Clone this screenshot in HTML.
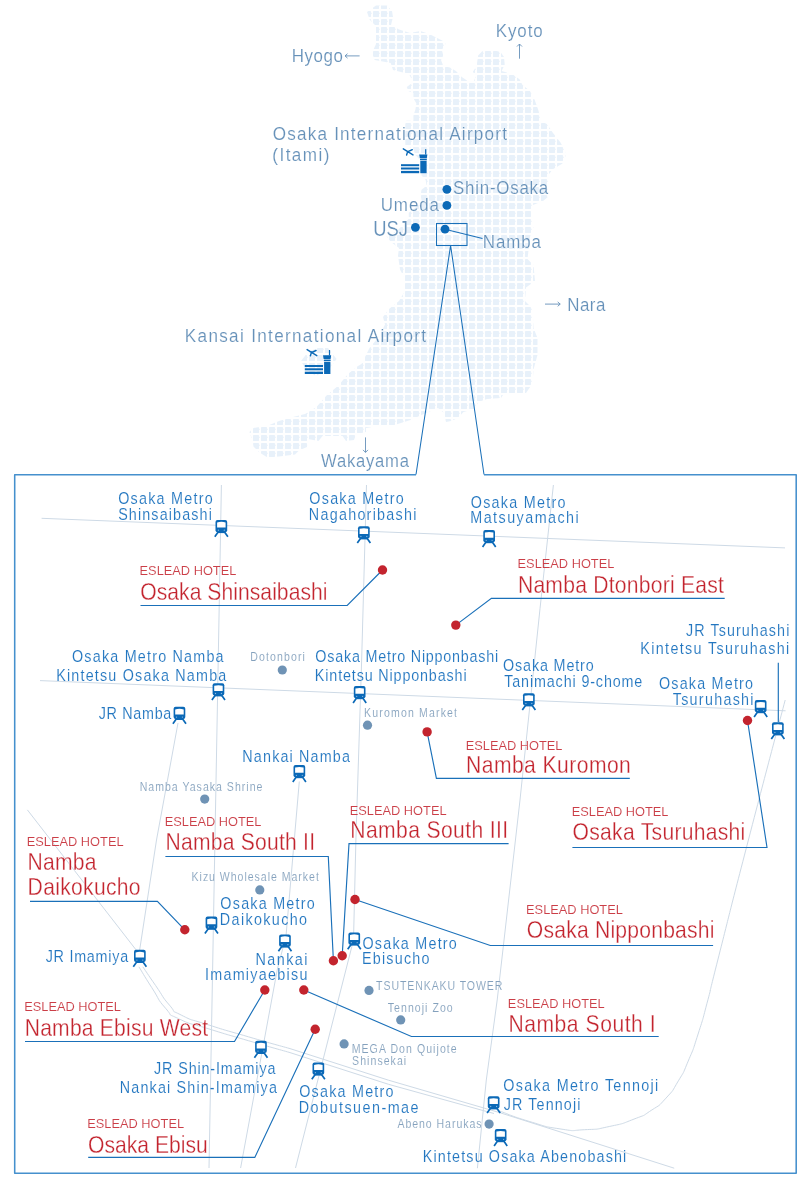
<!DOCTYPE html>
<html><head><meta charset="utf-8"><title>Map</title>
<style>
html,body{margin:0;padding:0;background:#fff;}
svg{display:block;will-change:transform;}
text{font-family:"Liberation Sans",sans-serif;}
</style></head><body>
<svg width="811" height="1180" viewBox="0 0 811 1180">
<defs>
<pattern id="g" x="5" y="3" width="8" height="8" patternUnits="userSpaceOnUse"><rect x="0" y="0" width="6" height="6" rx="0.4" fill="#e8f1fa"/><rect x="5.8" y="1.7" width="1" height="1.3" fill="#e8f1fa" opacity="0.8"/></pattern>
<clipPath id="oc"><polygon points="376,5.5 387,5.5 392,11 393,17 391,25 399,29.5 410,33 420.4,31 429.2,34 438.1,38.5 445.5,42.2 444.8,46.6 441.8,49.6 443.3,55.5 441,60 443.3,65.9 450,67.4 455.9,71 461.8,77 469.2,82.1 473.6,82 475.8,76.2 472.9,71.8 476.6,65.9 478.1,55.5 482.5,51 488.4,49.6 500.3,51.8 504,57 504.7,64.4 501.7,71 512.1,74 519.5,79.2 522.5,85.1 530,91 534.7,100 538.4,110.3 540,116.5 540,121 547,124 553,133 560.5,142.5 565,151 565.5,156 562.5,163.5 552.5,169.5 548,175.5 548,197 543,201 533,205 531,213 532,223 533.5,227 530,237 527.5,259 533.5,265 535,281 526,287.5 525,301 532.5,308.5 533.5,328 537.5,338 537.5,355 533.5,369.5 532.5,383.5 526,393 503,395 501,398 487,399 478.5,402 474.5,409 463.5,412 458,418 451,421 446,422 444,413 438,408 426,413 410.5,420 394.5,425 379,426 366,428 366,432 356,434.5 354,440 346,441 342.5,436 322.5,436 318.5,441 308,439 307,447 299,450.5 295,454.5 279,456.5 267.5,457.5 259.5,452.5 253.5,446.5 252.5,441 249.5,432 253.5,428 269.5,425 279,421 293,417 305,414 316.5,407 326.5,395.5 338.5,385.5 348,374 358,366 361.5,364 369.5,348 379,336.5 385,324.5 383,317 389,309 399,301 405,291 405,279 400,269.5 398,255.5 399,248 391,242 386.5,236.5 397,231 408.8,218.7 408.8,212.8 422,202.5 420.5,195 421.5,189.8 426.6,185.8 425.6,179.7 421.5,175.6 420,160 415.4,155 413.4,149 405.3,145 405.3,123.7 406.3,120.7 413.4,120.7 413.4,115.6 415.4,109.5 416.4,103.4 413.4,98.3 413.4,93 408.3,91 406.8,87 413.4,82 411.6,79 409,74 393,70 390.7,63 374.7,60 372,53 376,44 376,26 369.7,19.7 367,12"/><polygon points="301,361 308,352 318,348 328,348 336.6,359 330,368 316,376 306,370"/></clipPath>
<g id="tr">
<rect x="1.2" y="0" width="11.7" height="12.3" rx="2" fill="#0b69b7"/>
<rect x="3.4" y="11.5" width="7.2" height="1.7" fill="#0b69b7"/>
<path d="M2.8 7.7 V2.6 Q7.05 1.3 11.3 2.6 V7.7 Z" fill="#fff"/>
<circle cx="4.1" cy="10.3" r="0.65" fill="#8dbbe2"/><circle cx="10" cy="10.3" r="0.65" fill="#8dbbe2"/>
<path d="M4.2 11.6 L0.5 16.9 M9.9 11.6 L13.6 16.9" stroke="#0b69b7" stroke-width="1.7" stroke-linecap="butt" fill="none"/>
</g>
<g id="ap">
<rect x="0" y="15.6" width="18.2" height="2" fill="#0b69b7"/>
<rect x="0" y="18.9" width="18.2" height="2" fill="#0b69b7"/>
<rect x="0" y="22.3" width="18.2" height="2.3" fill="#0b69b7"/>
<rect x="19.3" y="12.4" width="6.3" height="12.2" fill="#0b69b7"/>
<path d="M18.2 5.8 H26.4 L25.8 9.6 H18.8 Z" fill="#0b69b7"/>
<rect x="19" y="10.2" width="6.8" height="1.5" fill="#0b69b7"/>
<rect x="24.1" y="0.6" width="1.2" height="5.4" fill="#0b69b7"/>
<path d="M2.3 0.2 L12 6.3 M11.3 1.1 L6.6 3.2 L5.6 6.4" stroke="#0b69b7" stroke-width="1.4" fill="none" stroke-linecap="round"/>
</g>
</defs>
<rect width="811" height="1180" fill="#fff"/>

<rect x="240" y="0" width="340" height="470" fill="url(#g)" clip-path="url(#oc)"/>
<g fill="none" stroke="#1a70b9" stroke-width="1.05">
<rect x="436.5" y="223.5" width="30.5" height="22"/>
<path d="M445 229.2 L482.5 238.4"/>
<path d="M450.6 245.5 L416 474.5 M450.6 245.5 L484 474.5"/>
</g>
<path d="M416 474.7 H14.7 V1173.2 H796.2 V474.7 H484" fill="none" stroke="#4590cd" stroke-width="1.55" stroke-linejoin="round"/>
<circle cx="446.9" cy="189.3" r="4.4" fill="#0b69b7"/>
<circle cx="446.9" cy="205.4" r="4.4" fill="#0b69b7"/>
<circle cx="415.4" cy="227.3" r="4.4" fill="#0b69b7"/>
<circle cx="445" cy="229.2" r="4.4" fill="#0b69b7"/>
<use href="#ap" x="401" y="148.6"/>
<use href="#ap" x="304.8" y="349.4"/>
<text transform="translate(291.65 62.4) scale(0.9000 1)" font-size="18.8" fill="#6691b9" stroke="#fff" stroke-width="0.15" letter-spacing="0.675">Hyogo</text>
<text transform="translate(495.65 36.5) scale(0.9000 1)" font-size="18.8" fill="#6691b9" stroke="#fff" stroke-width="0.15" letter-spacing="1.056">Kyoto</text>
<text transform="translate(272.63 140.2) scale(0.9000 1)" font-size="19" fill="#6691b9" stroke="#fff" stroke-width="0.15" letter-spacing="1.367">Osaka International Airport</text>
<text transform="translate(272.37 160.9) scale(0.9000 1)" font-size="19" fill="#6691b9" stroke="#fff" stroke-width="0.15" letter-spacing="1.596">(Itami)</text>
<text transform="translate(453.04 194.3) scale(0.9000 1)" font-size="18.8" fill="#6691b9" stroke="#fff" stroke-width="0.15" letter-spacing="0.834">Shin-Osaka</text>
<text transform="translate(380.73 210.6) scale(0.9000 1)" font-size="18.8" fill="#6691b9" stroke="#fff" stroke-width="0.15" letter-spacing="1.028">Umeda</text>
<text transform="translate(373.22 236.2) scale(0.8542 1)" font-size="21.5" fill="#6691b9" stroke="#fff" stroke-width="0.15">USJ</text>
<text transform="translate(482.85 247.5) scale(0.9000 1)" font-size="18.8" fill="#6691b9" stroke="#fff" stroke-width="0.15" letter-spacing="0.968">Namba</text>
<text transform="translate(567.15 310.6) scale(0.9000 1)" font-size="18.8" fill="#6691b9" stroke="#fff" stroke-width="0.15" letter-spacing="0.606">Nara</text>
<text transform="translate(184.83 341.6) scale(0.9000 1)" font-size="19" fill="#6691b9" stroke="#fff" stroke-width="0.15" letter-spacing="1.483">Kansai International Airport</text>
<text transform="translate(321.06 466.5) scale(0.9000 1)" font-size="18.5" fill="#6691b9" stroke="#fff" stroke-width="0.15" letter-spacing="0.853">Wakayama</text>
<g fill="none" stroke="#6691b9" stroke-width="0.9">
<path d="M359.6 55.9 H345 M347.5 53.7 L345 55.9 L347.5 58.1"/>
<path d="M519.5 58.7 V44 M517 46.5 L519.5 44 L522 46.5"/>
<path d="M545 304.1 H560.2 M557.7 301.9 L560.2 304.1 L557.7 306.3"/>
<path d="M365.5 437.4 V452.4 M363 449.9 L365.5 452.4 L368 449.9"/>
</g>
<g fill="none" stroke="#cedae6" stroke-width="1">
<path d="M41.6 518.3 L785 547.9"/>
<path d="M40 680.6 L785.6 710.8"/>
<path d="M221.4 485 L209 1168"/>
<path d="M366.5 485 L361.5 665 L355.9 840 L353.5 940 L295.5 1168"/>
<path d="M553.4 485 L540 608.7 L520 800 L497.2 1000 L486.3 1080 L477.4 1168.2"/>
<path d="M785.2 700 C772.9 746.7 770.9 753.3 748.4 840 C725.9 926.7 731.3 906.8 717.8 960 C704.3 1013.2 714.6 974.8 708 999.5 C701.4 1024.2 704.7 1013.5 698.1 1034 C691.5 1054.5 694.8 1045.5 688.2 1061.1 C681.6 1076.7 685.8 1068.5 678.4 1080.8 C671.0 1093.1 675.1 1088.2 666 1098.1 C656.9 1108.0 661.9 1103.4 651.2 1110.4 C640.5 1117.4 648.0 1113.7 634 1119.1 C620.0 1124.5 625.7 1123.0 609.3 1126.5 C592.9 1130.0 601.1 1128.9 584.7 1129.7 C568.3 1130.5 578.5 1131.7 560 1128.9 C541.5 1126.1 549.3 1127.4 529.2 1121.4 C509.1 1115.4 509.5 1114.5 499.6 1111"/>
<path d="M178 723 L156.5 840 L139.6 950.4"/>
<path d="M27.4 809.9 L138.4 952.9"/>
<path d="M299.3 781.5 L286 936 L277.2 970 L240.6 1168"/>
<path d="M142.8 966.8 C147.1 973.0 146.7 972.7 155.6 985.5 C164.5 998.3 160.9 995.3 169.5 1005.2 C178.1 1015.1 168.2 1008.5 181.3 1015.1 C194.4 1021.7 186.5 1017.8 208.9 1025 C231.3 1032.2 221.4 1028.9 248.4 1036.8 C275.4 1044.7 276.1 1044.7 290 1048.6 L388.5 1080.2 L486.2 1108.7 L499.6 1112.6 L674.2 1168.2"/>
<path d="M138.9 966.8 C143.2 973.7 142.8 973.7 151.7 987.5 C160.6 1001.3 156.3 997.7 165.5 1008.2 C174.7 1018.7 164.8 1012.1 179.3 1019 C193.8 1025.9 185.9 1021.7 208.9 1028.9 C231.9 1036.1 221.4 1032.8 248.4 1040.7 C275.4 1048.6 276.1 1048.6 290 1052.6 L388.5 1084.3 L486.2 1111.4 L494 1113.5"/>
</g>
<g fill="none" stroke="#1a70b9" stroke-width="1.15" stroke-linejoin="miter">
<path d="M140.5 605.5 H347.2 L382.5 570"/>
<path d="M455.8 625.1 L491.4 598.4 H724.7"/>
<path d="M427.1 731.9 L436.4 778.3 H629.8"/>
<path d="M747.5 720.5 L767 847.5 H572.4"/>
<path d="M165.4 856.5 H328.3 L333.4 960.7"/>
<path d="M508.6 843.6 H349 L342.2 955.8"/>
<path d="M30 901.4 H157.4 L184.8 929.8"/>
<path d="M355 899.5 L490.3 945.5 H713.1"/>
<path d="M25 1041.5 H234.5 L264.8 990"/>
<path d="M303.8 990 L411.4 1036.5 H658.7"/>
<path d="M88.2 1157.4 H254.8 L315.2 1029.3"/>
<path d="M778.3 662.7 V722"/>
</g>
<use href="#tr" x="214.3" y="519.9"/>
<use href="#tr" x="356.8" y="526.2"/>
<use href="#tr" x="482.1" y="530"/>
<use href="#tr" x="211.4" y="683.2"/>
<use href="#tr" x="172.4" y="706.8"/>
<use href="#tr" x="352.6" y="686"/>
<use href="#tr" x="521.8" y="693.2"/>
<use href="#tr" x="753.6" y="700"/>
<use href="#tr" x="770.8" y="722.2"/>
<use href="#tr" x="292.3" y="765"/>
<use href="#tr" x="204.4" y="916.6"/>
<use href="#tr" x="277.9" y="934.4"/>
<use href="#tr" x="347.2" y="932.4"/>
<use href="#tr" x="132.8" y="949.8"/>
<use href="#tr" x="253.9" y="1040.8"/>
<use href="#tr" x="311.3" y="1062.4"/>
<use href="#tr" x="486.6" y="1096.2"/>
<use href="#tr" x="493.6" y="1129"/>
<circle cx="282.3" cy="670" r="4.6" fill="#6f93b5"/>
<circle cx="367.5" cy="725.2" r="4.6" fill="#6f93b5"/>
<circle cx="204.7" cy="799.1" r="4.6" fill="#6f93b5"/>
<circle cx="259.8" cy="889.9" r="4.6" fill="#6f93b5"/>
<circle cx="369" cy="990.4" r="4.6" fill="#6f93b5"/>
<circle cx="400.7" cy="1019.9" r="4.6" fill="#6f93b5"/>
<circle cx="344.1" cy="1043.9" r="4.6" fill="#6f93b5"/>
<circle cx="489.1" cy="1124.1" r="4.6" fill="#6f93b5"/>
<circle cx="382.5" cy="570" r="4.7" fill="#c3242e"/>
<circle cx="455.8" cy="625.1" r="4.7" fill="#c3242e"/>
<circle cx="427.1" cy="731.9" r="4.7" fill="#c3242e"/>
<circle cx="747.5" cy="720.5" r="4.7" fill="#c3242e"/>
<circle cx="333.4" cy="960.7" r="4.7" fill="#c3242e"/>
<circle cx="342.2" cy="955.8" r="4.7" fill="#c3242e"/>
<circle cx="184.8" cy="929.8" r="4.7" fill="#c3242e"/>
<circle cx="355" cy="899.5" r="4.7" fill="#c3242e"/>
<circle cx="264.8" cy="990" r="4.7" fill="#c3242e"/>
<circle cx="303.8" cy="990" r="4.7" fill="#c3242e"/>
<circle cx="315.2" cy="1029.3" r="4.7" fill="#c3242e"/>
<text transform="translate(118.15 503.6) scale(0.8800 1)" font-size="16.3" fill="#2276c0" stroke="#fff" stroke-width="0.12" letter-spacing="1.425">Osaka Metro</text>
<text transform="translate(118.15 519.7) scale(0.8800 1)" font-size="16.3" fill="#2276c0" stroke="#fff" stroke-width="0.12" letter-spacing="1.279">Shinsaibashi</text>
<text transform="translate(309.35 504.3) scale(0.8800 1)" font-size="16.3" fill="#2276c0" stroke="#fff" stroke-width="0.12" letter-spacing="1.402">Osaka Metro</text>
<text transform="translate(308.85 520) scale(0.8800 1)" font-size="16.3" fill="#2276c0" stroke="#fff" stroke-width="0.12" letter-spacing="1.430">Nagahoribashi</text>
<text transform="translate(470.75 508.1) scale(0.8800 1)" font-size="16.3" fill="#2276c0" stroke="#fff" stroke-width="0.12" letter-spacing="1.447">Osaka Metro</text>
<text transform="translate(470.25 523.2) scale(0.8800 1)" font-size="16.3" fill="#2276c0" stroke="#fff" stroke-width="0.12" letter-spacing="1.656">Matsuyamachi</text>
<text transform="translate(685.98 635.5) scale(0.8800 1)" font-size="16.3" fill="#2276c0" stroke="#fff" stroke-width="0.12" letter-spacing="1.209">JR Tsuruhashi</text>
<text transform="translate(640.35 654.3) scale(0.8800 1)" font-size="16.3" fill="#2276c0" stroke="#fff" stroke-width="0.12" letter-spacing="1.520">Kintetsu Tsuruhashi</text>
<text transform="translate(71.95 662) scale(0.8800 1)" font-size="16.3" fill="#2276c0" stroke="#fff" stroke-width="0.12" letter-spacing="1.377">Osaka Metro Namba</text>
<text transform="translate(56.15 681) scale(0.8800 1)" font-size="16.3" fill="#2276c0" stroke="#fff" stroke-width="0.12" letter-spacing="1.359">Kintetsu Osaka Namba</text>
<text transform="translate(98.68 719) scale(0.8800 1)" font-size="16.3" fill="#2276c0" stroke="#fff" stroke-width="0.12" letter-spacing="0.802">JR Namba</text>
<text transform="translate(315.35 662.4) scale(0.8800 1)" font-size="16.3" fill="#2276c0" stroke="#fff" stroke-width="0.12" letter-spacing="0.886">Osaka Metro Nipponbashi</text>
<text transform="translate(314.85 681.3) scale(0.8800 1)" font-size="16.3" fill="#2276c0" stroke="#fff" stroke-width="0.12" letter-spacing="0.971">Kintetsu Nipponbashi</text>
<text transform="translate(503.05 670.8) scale(0.8800 1)" font-size="16.3" fill="#2276c0" stroke="#fff" stroke-width="0.12" letter-spacing="0.970">Osaka Metro</text>
<text transform="translate(504.21 686.8) scale(0.8800 1)" font-size="16.3" fill="#2276c0" stroke="#fff" stroke-width="0.12" letter-spacing="0.983">Tanimachi 9-chome</text>
<text transform="translate(658.95 689) scale(0.8800 1)" font-size="16.3" fill="#2276c0" stroke="#fff" stroke-width="0.12" letter-spacing="1.368">Osaka Metro</text>
<text transform="translate(672.71 704.8) scale(0.8800 1)" font-size="16.3" fill="#2276c0" stroke="#fff" stroke-width="0.12" letter-spacing="1.448">Tsuruhashi</text>
<text transform="translate(242.35 762) scale(0.8800 1)" font-size="16.3" fill="#2276c0" stroke="#fff" stroke-width="0.12" letter-spacing="1.318">Nankai Namba</text>
<text transform="translate(220.35 909.2) scale(0.8800 1)" font-size="16.3" fill="#2276c0" stroke="#fff" stroke-width="0.12" letter-spacing="1.402">Osaka Metro</text>
<text transform="translate(219.85 924.6) scale(0.8800 1)" font-size="16.3" fill="#2276c0" stroke="#fff" stroke-width="0.12" letter-spacing="1.550">Daikokucho</text>
<text transform="translate(255.45 964.8) scale(0.8800 1)" font-size="16.3" fill="#2276c0" stroke="#fff" stroke-width="0.12" letter-spacing="1.675">Nankai</text>
<text transform="translate(204.91 979.8) scale(0.8800 1)" font-size="16.3" fill="#2276c0" stroke="#fff" stroke-width="0.12" letter-spacing="1.452">Imamiyaebisu</text>
<text transform="translate(362.45 948.8) scale(0.8800 1)" font-size="16.3" fill="#2276c0" stroke="#fff" stroke-width="0.12" letter-spacing="1.402">Osaka Metro</text>
<text transform="translate(361.95 964.3) scale(0.8800 1)" font-size="16.3" fill="#2276c0" stroke="#fff" stroke-width="0.12" letter-spacing="1.401">Ebisucho</text>
<text transform="translate(45.68 961.5) scale(0.8800 1)" font-size="16.3" fill="#2276c0" stroke="#fff" stroke-width="0.12" letter-spacing="0.856">JR Imamiya</text>
<text transform="translate(154.08 1073.8) scale(0.8800 1)" font-size="16.3" fill="#2276c0" stroke="#fff" stroke-width="0.12" letter-spacing="0.989">JR Shin-Imamiya</text>
<text transform="translate(119.85 1092.8) scale(0.8800 1)" font-size="16.3" fill="#2276c0" stroke="#fff" stroke-width="0.12" letter-spacing="1.314">Nankai Shin-Imamiya</text>
<text transform="translate(299.25 1096.5) scale(0.8800 1)" font-size="16.3" fill="#2276c0" stroke="#fff" stroke-width="0.12" letter-spacing="1.390">Osaka Metro</text>
<text transform="translate(298.75 1112.5) scale(0.8800 1)" font-size="16.3" fill="#2276c0" stroke="#fff" stroke-width="0.12" letter-spacing="1.686">Dobutsuen-mae</text>
<text transform="translate(503.35 1091.2) scale(0.8800 1)" font-size="16.3" fill="#2276c0" stroke="#fff" stroke-width="0.12" letter-spacing="1.492">Osaka Metro Tennoji</text>
<text transform="translate(503.78 1109.5) scale(0.8800 1)" font-size="16.3" fill="#2276c0" stroke="#fff" stroke-width="0.12" letter-spacing="1.256">JR Tennoji</text>
<text transform="translate(422.85 1161.6) scale(0.8800 1)" font-size="16.3" fill="#2276c0" stroke="#fff" stroke-width="0.12" letter-spacing="1.291">Kintetsu Osaka Abenobashi</text>
<text transform="translate(250.36 660.9) scale(0.8800 1)" font-size="12" fill="#84a1bd" stroke="#fff" stroke-width="0.1" letter-spacing="1.243">Dotonbori</text>
<text transform="translate(364.06 717.2) scale(0.8800 1)" font-size="12" fill="#84a1bd" stroke="#fff" stroke-width="0.1" letter-spacing="1.305">Kuromon Market</text>
<text transform="translate(139.66 790.5) scale(0.8800 1)" font-size="12" fill="#84a1bd" stroke="#fff" stroke-width="0.1" letter-spacing="1.144">Namba Yasaka Shrine</text>
<text transform="translate(191.56 880.6) scale(0.8800 1)" font-size="12" fill="#84a1bd" stroke="#fff" stroke-width="0.1" letter-spacing="1.098">Kizu Wholesale Market</text>
<text transform="translate(376.09 989.7) scale(0.8800 1)" font-size="12" fill="#84a1bd" stroke="#fff" stroke-width="0.1" letter-spacing="1.025">TSUTENKAKU TOWER</text>
<text transform="translate(387.79 1011.6) scale(0.8800 1)" font-size="12" fill="#84a1bd" stroke="#fff" stroke-width="0.1" letter-spacing="1.175">Tennoji Zoo</text>
<text transform="translate(351.66 1052.6) scale(0.8800 1)" font-size="12" fill="#84a1bd" stroke="#fff" stroke-width="0.1" letter-spacing="1.204">MEGA Don Quijote</text>
<text transform="translate(352.12 1064.9) scale(0.8800 1)" font-size="12" fill="#84a1bd" stroke="#fff" stroke-width="0.1" letter-spacing="1.177">Shinsekai</text>
<text transform="translate(397.40 1127.8) scale(0.8800 1)" font-size="12" fill="#84a1bd" stroke="#fff" stroke-width="0.1" letter-spacing="1.078">Abeno Harukas</text>
<text transform="translate(140.25 599.5) scale(0.8800 1)" font-size="24" fill="#c3242e" stroke="#fff" stroke-width="0.3" letter-spacing="0.045">Osaka Shinsaibashi</text>
<text transform="translate(139.57 574.9) scale(0.9641 1)" font-size="13.3" fill="#cb3e47" stroke="#fff" stroke-width="0.1">ESLEAD HOTEL</text>
<text transform="translate(517.91 592.5) scale(0.8800 1)" font-size="24" fill="#c3242e" stroke="#fff" stroke-width="0.3" letter-spacing="0.264">Namba Dtonbori East</text>
<text transform="translate(517.57 567.6) scale(0.9641 1)" font-size="13.3" fill="#cb3e47" stroke="#fff" stroke-width="0.1">ESLEAD HOTEL</text>
<text transform="translate(466.01 773.4) scale(0.8800 1)" font-size="24" fill="#c3242e" stroke="#fff" stroke-width="0.3" letter-spacing="0.501">Namba Kuromon</text>
<text transform="translate(465.67 749.6) scale(0.9641 1)" font-size="13.3" fill="#cb3e47" stroke="#fff" stroke-width="0.1">ESLEAD HOTEL</text>
<text transform="translate(572.55 840.3) scale(0.8800 1)" font-size="24" fill="#c3242e" stroke="#fff" stroke-width="0.3" letter-spacing="0.317">Osaka Tsuruhashi</text>
<text transform="translate(571.67 815.6) scale(0.9641 1)" font-size="13.3" fill="#cb3e47" stroke="#fff" stroke-width="0.1">ESLEAD HOTEL</text>
<text transform="translate(165.51 850.2) scale(0.8800 1)" font-size="24" fill="#c3242e" stroke="#fff" stroke-width="0.3" letter-spacing="0.250">Namba South II</text>
<text transform="translate(164.67 825.6) scale(0.9641 1)" font-size="13.3" fill="#cb3e47" stroke="#fff" stroke-width="0.1">ESLEAD HOTEL</text>
<text transform="translate(350.31 838.2) scale(0.8800 1)" font-size="24" fill="#c3242e" stroke="#fff" stroke-width="0.3" letter-spacing="0.438">Namba South III</text>
<text transform="translate(349.77 814.5) scale(0.9641 1)" font-size="13.3" fill="#cb3e47" stroke="#fff" stroke-width="0.1">ESLEAD HOTEL</text>
<text transform="translate(27.61 895.2) scale(0.8800 1)" font-size="24" fill="#c3242e" stroke="#fff" stroke-width="0.3" letter-spacing="0.339">Daikokucho</text>
<text transform="translate(27.61 870.1) scale(0.8800 1)" font-size="24" fill="#c3242e" stroke="#fff" stroke-width="0.3" letter-spacing="0.249">Namba</text>
<text transform="translate(26.77 845.6) scale(0.9641 1)" font-size="13.3" fill="#cb3e47" stroke="#fff" stroke-width="0.1">ESLEAD HOTEL</text>
<text transform="translate(526.85 938.3) scale(0.8800 1)" font-size="24" fill="#c3242e" stroke="#fff" stroke-width="0.3" letter-spacing="0.238">Osaka Nipponbashi</text>
<text transform="translate(526.07 913.6) scale(0.9641 1)" font-size="13.3" fill="#cb3e47" stroke="#fff" stroke-width="0.1">ESLEAD HOTEL</text>
<text transform="translate(24.71 1035.5) scale(0.8800 1)" font-size="24" fill="#c3242e" stroke="#fff" stroke-width="0.3" letter-spacing="0.230">Namba Ebisu West</text>
<text transform="translate(24.17 1010.7) scale(0.9641 1)" font-size="13.3" fill="#cb3e47" stroke="#fff" stroke-width="0.1">ESLEAD HOTEL</text>
<text transform="translate(508.41 1032) scale(0.8800 1)" font-size="24" fill="#c3242e" stroke="#fff" stroke-width="0.3" letter-spacing="0.608">Namba South I</text>
<text transform="translate(507.87 1007.5) scale(0.9641 1)" font-size="13.3" fill="#cb3e47" stroke="#fff" stroke-width="0.1">ESLEAD HOTEL</text>
<text transform="translate(88.05 1152.6) scale(0.8800 1)" font-size="24" fill="#c3242e" stroke="#fff" stroke-width="0.3" letter-spacing="0.003">Osaka Ebisu</text>
<text transform="translate(87.27 1127.7) scale(0.9641 1)" font-size="13.3" fill="#cb3e47" stroke="#fff" stroke-width="0.1">ESLEAD HOTEL</text>
</svg></body></html>
